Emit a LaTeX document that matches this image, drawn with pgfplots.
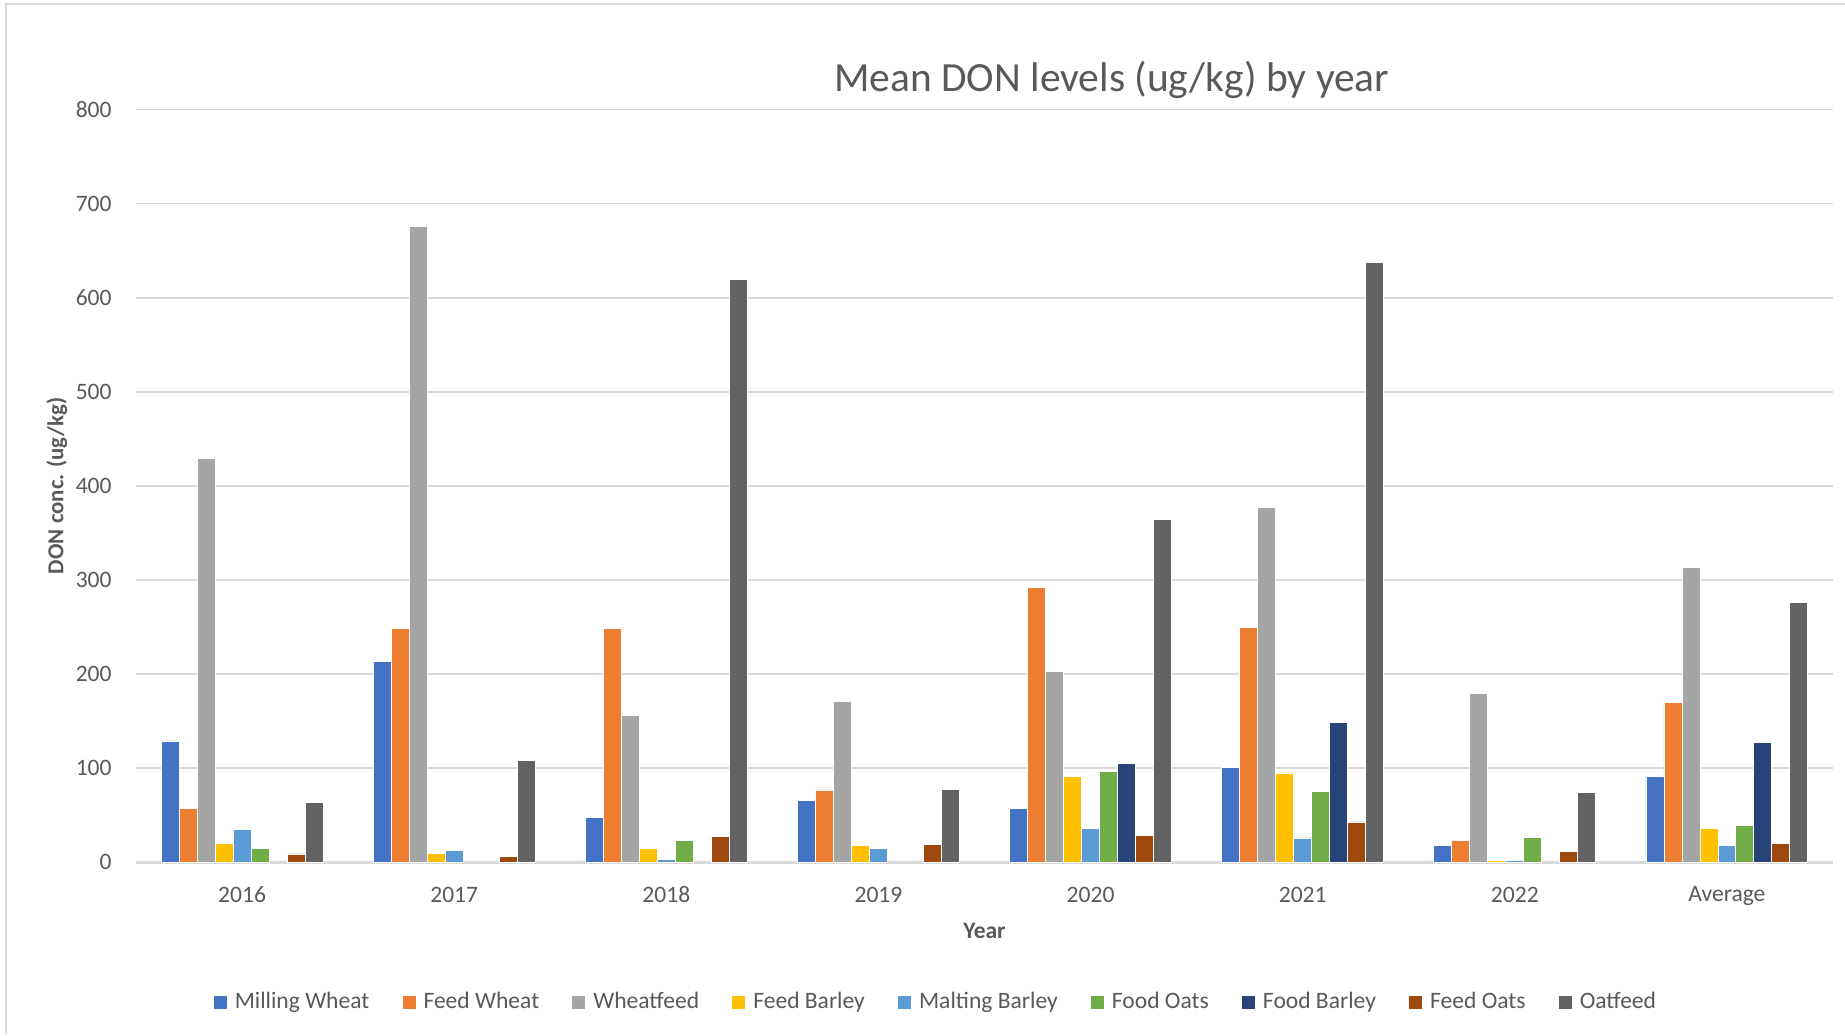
\documentclass[border=0pt]{standalone}
\usepackage{fontspec}
\setmainfont{Carlito}
\usepackage{pgfplots}
\usepackage{pgfplotstable}
\pgfplotsset{compat=1.18}

\definecolor{txtgray}{HTML}{595959}
\definecolor{gridgray}{HTML}{D9D9D9}
\definecolor{cMW}{HTML}{4472C4}
\definecolor{cFW}{HTML}{ED7D31}
\definecolor{cWF}{HTML}{A5A5A5}
\definecolor{cFB}{HTML}{FFC000}
\definecolor{cMB}{HTML}{5B9BD5}
\definecolor{cFO}{HTML}{70AD47}
\definecolor{cFBa}{HTML}{264478}
\definecolor{cFOa}{HTML}{9E480E}
\definecolor{cOF}{HTML}{636363}

% Mean DON (ug/kg) per category; nan = no samples
\pgfplotstableread{
x  MW   FW   WF   FB   MB   FO   FBa  FOa  OF
0  129  57   429  20   35   15   nan  9    64
1  213  249  676  10   13   nan  nan  6    108
2  48   249  156  15   3.5  23   nan  28   619
3  66   77   171  18   15   nan  nan  19   78
4  57   292  203  91   36   97   105  29   364
5  101  250  377  95   26   75   149  43   637
6  18   23   179  2.5  1.7  27   nan  12   74
7  91   170  313  36   18   39   127  20   276
}\dondata

\begin{document}
\begin{tikzpicture}[x=1cm,y=1cm]
\path[use as bounding box] (0,0) rectangle (18.45,10.35);
\draw[gridgray, line width=0.6pt] (0.06,0) -- (0.06,10.31) -- (18.45,10.31);
\begin{axis}[
  at={(1.36cm,1.726cm)}, anchor=south west,
  scale only axis, width=16.97cm, height=7.53cm,
  ybar=0pt, bar width=0.0848,
  xmin=-0.5, xmax=7.5, ymin=0, ymax=800,
  xtick={0,...,7},
  xticklabels={2016,2017,2018,2019,2020,2021,2022,Average},
  ytick={0,100,...,800},
  axis x line*=bottom, axis y line*=left,
  x axis line style={draw=gridgray, line width=1pt, -},
  y axis line style={draw=none},
  major tick length=0pt,
  ymajorgrids, grid style={draw=gridgray, line width=0.5pt},
  /pgf/number format/assume math mode=true,
  ticklabel style={font=\fontsize{6.7}{8}\selectfont, text=txtgray},
  xticklabel style={yshift=-0.12cm},
  yticklabel style={xshift=-0.12cm},
  title={Mean DON levels (ug/kg) by year},
  every axis title shift=0pt,
  title style={at={(rel axis cs:0.575,1.0244)}, anchor=base,
    font=\fontsize{11.8}{14}\selectfont, text=txtgray},
  xlabel={Year},
  xlabel style={at={(rel axis cs:0.5,-0.091)}, anchor=center,
    font=\fontsize{6.7}{8}\selectfont\bfseries, text=txtgray},
  ylabel={DON conc. (ug/kg)},
  ylabel style={at={(rel axis cs:-0.0466,0.5)}, anchor=center,
    font=\fontsize{6.5}{8}\selectfont\bfseries, text=txtgray},
  legend columns=9,
  legend style={at={(rel axis cs:0.4726,-0.1865)}, anchor=center,
    draw=none, font=\fontsize{6.7}{8}\selectfont, text=txtgray,
    /tikz/every even column/.append style={column sep=0.253cm}},
  legend image code/.code={\fill[#1] (0.05cm,-0.07cm) rectangle (0.19cm,0.07cm);},
  every axis plot/.append style={draw=white, line width=0.25pt},
]
\addplot[fill=cMW]  table[x=x,y=MW]  {\dondata};
\addplot[fill=cFW]  table[x=x,y=FW]  {\dondata};
\addplot[fill=cWF]  table[x=x,y=WF]  {\dondata};
\addplot[fill=cFB]  table[x=x,y=FB]  {\dondata};
\addplot[fill=cMB]  table[x=x,y=MB]  {\dondata};
\addplot[fill=cFO]  table[x=x,y=FO]  {\dondata};
\addplot[fill=cFBa] table[x=x,y=FBa] {\dondata};
\addplot[fill=cFOa] table[x=x,y=FOa] {\dondata};
\addplot[fill=cOF]  table[x=x,y=OF]  {\dondata};
\legend{Milling Wheat,Feed Wheat,Wheatfeed,Feed Barley,Malting Barley,Food Oats,Food Barley,Feed Oats,Oatfeed}
\end{axis}
\end{tikzpicture}
\end{document}
